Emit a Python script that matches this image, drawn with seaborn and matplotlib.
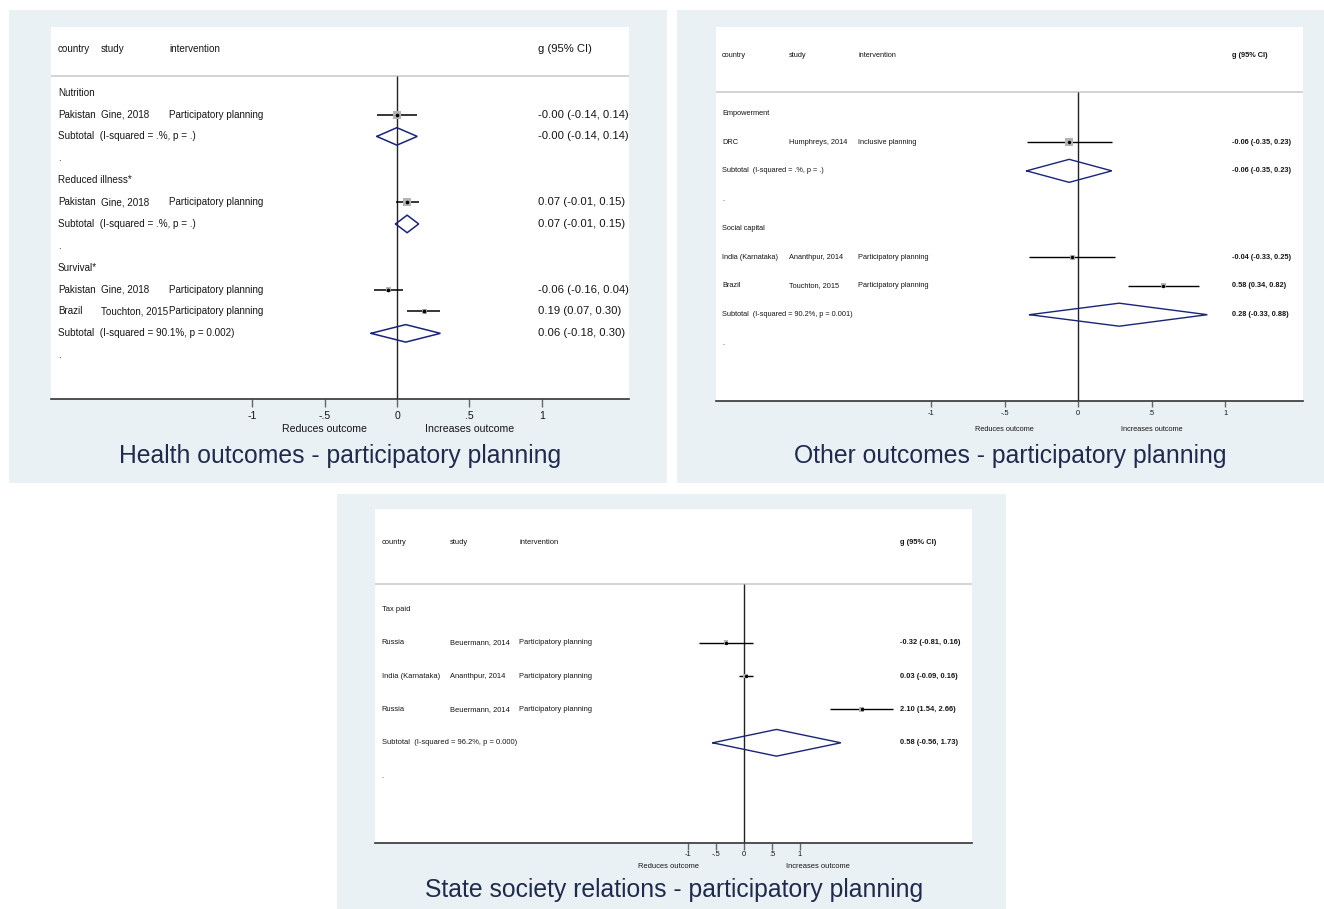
import numpy as np
import pandas as pd
import matplotlib
matplotlib.use("Agg")
import matplotlib.pyplot as plt
from matplotlib.patches import Rectangle
import matplotlib.transforms as mtransforms
import seaborn as sns

# ---------------- Health outcomes ----------------
health_groups = ["Nutrition", "Reduced illness*", "Survival*"]
health_group_idx = [0, 1, 2, 2]
health_country = ["Pakistan", "Pakistan", "Pakistan", "Brazil"]
health_study = ["Gine, 2018", "Gine, 2018", "Gine, 2018", "Touchton, 2015"]
health_intervention = ["Participatory planning"] * 4
health_g = [-0.001, 0.07, -0.06, 0.19]
health_lo = [-0.14, -0.01, -0.16, 0.07]
health_hi = [0.14, 0.15, 0.04, 0.30]
health_weight = [100.0, 100.0, 45.0, 40.0]
health_sub_g = [-0.001, 0.07, 0.06]
health_sub_lo = [-0.14, -0.01, -0.18]
health_sub_hi = [0.14, 0.15, 0.30]
health_sub_het = ["(I-squared = .%, p = .)",
                  "(I-squared = .%, p = .)",
                  "(I-squared = 90.1%, p = 0.002)"]

# ---------------- Other outcomes ----------------
other_groups = ["Empowerment", "Social capital"]
other_group_idx = [0, 1, 1]
other_country = ["DRC", "India (Karnataka)", "Brazil"]
other_study = ["Humphreys, 2014", "Ananthpur, 2014", "Touchton, 2015"]
other_intervention = ["Inclusive planning", "Participatory planning",
                      "Participatory planning"]
other_g = [-0.06, -0.04, 0.58]
other_lo = [-0.35, -0.33, 0.34]
other_hi = [0.23, 0.25, 0.82]
other_weight = [100.0, 45.0, 45.0]
other_sub_g = [-0.06, 0.28]
other_sub_lo = [-0.35, -0.33]
other_sub_hi = [0.23, 0.88]
other_sub_het = ["(I-squared = .%, p = .)",
                 "(I-squared = 90.2%, p = 0.001)"]

# ---------------- State society relations ----------------
state_groups = ["Tax paid"]
state_group_idx = [0, 0, 0]
state_country = ["Russia", "India (Karnataka)", "Russia"]
state_study = ["Beuermann, 2014", "Ananthpur, 2014", "Beuermann, 2014"]
state_intervention = ["Participatory planning"] * 3
state_g = [-0.32, 0.03, 2.10]
state_lo = [-0.81, -0.09, 1.54]
state_hi = [0.16, 0.16, 2.66]
state_weight = [33.0, 34.0, 33.0]
state_sub_g = [0.58]
state_sub_lo = [-0.56]
state_sub_hi = [1.73]
state_sub_het = ["(I-squared = 96.2%, p = 0.000)"]

tick_values = [-1, -0.5, 0, 0.5, 1]
tick_labels = ["-1", "-.5", "0", ".5", "1"]
header_cols = ["country", "study", "intervention", "g (95% CI)"]
favour_labels = ["Reduces outcome", "Increases outcome"]
panel_titles = ["Health outcomes - participatory planning",
                "Other outcomes - participatory planning",
                "State society relations - participatory planning"]


def fmt_effect(g, lo, hi):
    return f"{g:.2f} ({lo:.2f}, {hi:.2f})"


def build_rows(groups, gidx, country, study, interv, g, lo, hi, w,
               sg, slo, shi, shet):
    rows = []
    for k, name in enumerate(groups):
        rows.append(dict(kind="head", label=name))
        for i, gi in enumerate(gidx):
            if gi != k:
                continue
            rows.append(dict(kind="study", country=country[i], study=study[i],
                             interv=interv[i], g=g[i], lo=lo[i], hi=hi[i],
                             w=w[i]))
        rows.append(dict(kind="sub", label="Subtotal  " + shet[k],
                         g=sg[k], lo=slo[k], hi=shi[k]))
        rows.append(dict(kind="dot", label="."))
    df = pd.DataFrame(rows)
    df["row"] = np.arange(len(df), dtype=float)
    return df


panels = [
    build_rows(health_groups, health_group_idx, health_country, health_study,
               health_intervention, health_g, health_lo, health_hi,
               health_weight, health_sub_g, health_sub_lo, health_sub_hi,
               health_sub_het),
    build_rows(other_groups, other_group_idx, other_country, other_study,
               other_intervention, other_g, other_lo, other_hi, other_weight,
               other_sub_g, other_sub_lo, other_sub_hi, other_sub_het),
    build_rows(state_groups, state_group_idx, state_country, state_study,
               state_intervention, state_g, state_lo, state_hi, state_weight,
               state_sub_g, state_sub_lo, state_sub_hi, state_sub_het),
]

# ---------------- layout (pixels) ----------------
W, H = 1324, 909
BG = "#e9f1f4"
NAVY = "#1a2478"
TITLE_C = "#1f2b4e"
TXT = "#151515"

layouts = [
    dict(bg=(9, 10, 667, 483), ax=(51, 27, 629, 399), zero=397, scale=144.7,
         cols=[0.012, 0.0865, 0.204, 0.8426], fs=7.1, vfs=8.1, tfs=7.6,
         bold=False, fav_x=[-0.5, 0.5], fav_y=429, title_xy=(340, 456),
         tick_len=5.8, tick_pad=2.5, box_pt=5.8, dot_s=7, lw=1.1),
    dict(bg=(677, 10, 1324, 483), ax=(716, 27, 1303, 401), zero=1078,
         scale=147.0, cols=[0.0102, 0.124, 0.242, 0.879], fs=5.3, vfs=5.3,
         tfs=5.3, bold=True, fav_x=[-0.5, 0.5], fav_y=429,
         title_xy=(1010, 456), tick_len=4.6, tick_pad=1.8, box_pt=5.5,
         dot_s=6, lw=1.0),
    dict(bg=(337, 494, 1006, 909), ax=(375, 509, 972, 843), zero=744,
         scale=56.0, cols=[0.0109, 0.125, 0.242, 0.879], fs=5.4, vfs=5.4,
         tfs=5.4, bold=True, fav_x=[-1.357, 1.32], fav_y=867,
         title_xy=(674, 890), tick_len=4.8, tick_pad=1.2, box_pt=5.5,
         dot_s=6, lw=1.0),
]

sns.set_style("white")
plt.rcParams["font.family"] = ["Liberation Sans", "DejaVu Sans"]

fig = plt.figure(figsize=(W / 100, H / 100), dpi=100)
fig.patch.set_facecolor("white")

for df, lay, title in zip(panels, layouts, panel_titles):
    x0, y0, x1, y1 = lay["bg"]
    fig.add_artist(Rectangle((x0 / W, 1 - y1 / H), (x1 - x0) / W,
                             (y1 - y0) / H, transform=fig.transFigure,
                             facecolor=BG, edgecolor="none", zorder=-5))
    ax0, ay0, ax1, ay1 = lay["ax"]
    ax = fig.add_axes([ax0 / W, 1 - ay1 / H, (ax1 - ax0) / W, (ay1 - ay0) / H])
    ax.set_facecolor("white")

    n = len(df)
    ax.set_xlim((ax0 - lay["zero"]) / lay["scale"],
                (ax1 - lay["zero"]) / lay["scale"])
    ax.set_ylim(n + 1, -3)

    # header separator and line of no effect
    ax.axhline(-0.75, color="#cccccc", lw=1.2, zorder=1)
    ax.vlines(0, -0.75, n + 1, color="#222222", lw=1.0, zorder=2)

    studies = df[df["kind"] == "study"]
    subs = df[df["kind"] == "sub"]

    # confidence intervals
    ax.hlines(studies["row"], studies["lo"], studies["hi"], color="black",
              lw=lay["lw"], zorder=3)
    # weight boxes
    box_sizes = (lay["box_pt"] * np.sqrt(studies["w"].to_numpy() / 100.0)) ** 2
    sns.scatterplot(x=studies["g"].to_numpy(), y=studies["row"].to_numpy(),
                    s=box_sizes, marker="s", color="#b4b4b4", linewidth=0,
                    ax=ax, zorder=4, legend=False)
    # point estimates
    sns.scatterplot(x=studies["g"].to_numpy(), y=studies["row"].to_numpy(),
                    s=lay["dot_s"], marker="o", color="black", linewidth=0,
                    ax=ax, zorder=5, legend=False)
    # pooled diamonds
    for _, r in subs.iterrows():
        h = 0.4
        ax.plot([r["lo"], r["g"], r["hi"], r["g"], r["lo"]],
                [r["row"], r["row"] - h, r["row"], r["row"] + h, r["row"]],
                color=NAVY, lw=lay["lw"], zorder=4, solid_joinstyle="miter")

    # text columns
    tr = mtransforms.blended_transform_factory(ax.transAxes, ax.transData)
    c = lay["cols"]
    rw = "bold" if lay["bold"] else "normal"
    kw = dict(transform=tr, va="center", ha="left", color=TXT)
    for cx, lab in zip(c, header_cols):
        if lab.startswith("g"):
            ax.text(cx, -2, lab, fontsize=lay["vfs"], fontweight=rw, **kw)
        else:
            ax.text(cx, -2, lab, fontsize=lay["fs"], **kw)
    for _, r in df.iterrows():
        y = r["row"]
        if r["kind"] in ("head", "dot"):
            ax.text(c[0], y, r["label"], fontsize=lay["fs"], **kw)
        elif r["kind"] == "study":
            ax.text(c[0], y, r["country"], fontsize=lay["fs"], **kw)
            ax.text(c[1], y, r["study"], fontsize=lay["fs"], **kw)
            ax.text(c[2], y, r["interv"], fontsize=lay["fs"], **kw)
            ax.text(c[3], y, fmt_effect(r["g"], r["lo"], r["hi"]),
                    fontsize=lay["vfs"], fontweight=rw, **kw)
        else:
            ax.text(c[0], y, r["label"], fontsize=lay["fs"], **kw)
            ax.text(c[3], y, fmt_effect(r["g"], r["lo"], r["hi"]),
                    fontsize=lay["vfs"], fontweight=rw, **kw)

    # axis styling
    for side in ("top", "left", "right"):
        ax.spines[side].set_visible(False)
    ax.spines["bottom"].set_color("#333333")
    ax.spines["bottom"].set_linewidth(1.2)
    ax.set_yticks([])
    ax.set_xticks(tick_values, tick_labels)
    ax.tick_params(axis="x", direction="out", length=lay["tick_len"],
                   width=1.0, color="#666666", labelsize=lay["tfs"],
                   pad=lay["tick_pad"], labelcolor=TXT, bottom=True)
    ax.set_xlabel("")
    ax.set_ylabel("")
    ax.grid(False)

    fy = -(lay["fav_y"] - ay1) / (ay1 - ay0)
    for fx, lab in zip(lay["fav_x"], favour_labels):
        ax.text(fx, fy, lab, transform=ax.get_xaxis_transform(), ha="center",
                va="center", fontsize=lay["tfs"], color=TXT, clip_on=False)

    tx, ty = lay["title_xy"]
    fig.text(tx / W, 1 - ty / H, title, ha="center", va="center",
             fontsize=17.8, color=TITLE_C)

fig.savefig("out.png", dpi=100, facecolor="white")
